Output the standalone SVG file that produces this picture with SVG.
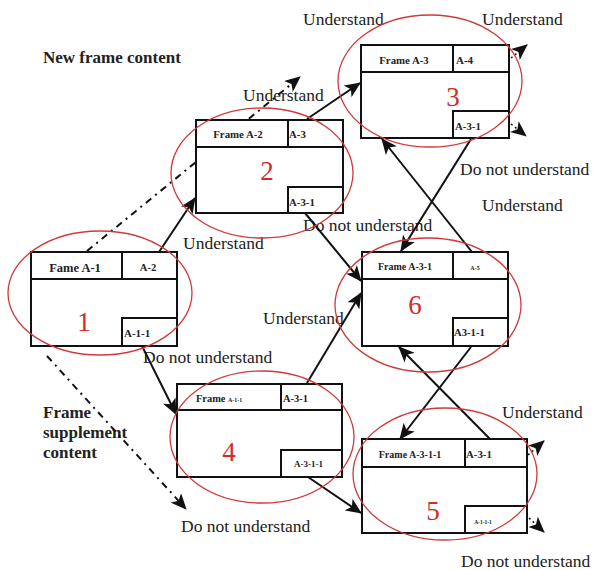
<svg xmlns="http://www.w3.org/2000/svg" width="593" height="570" viewBox="0 0 593 570">
<style>
.box{fill:#fff;stroke:#111;stroke-width:2}
.ln{fill:none;stroke:#111;stroke-width:2}
.ring{fill:none;stroke:#d03a3a;stroke-width:1.3}
.lbl{font-family:"Liberation Serif","Times New Roman",serif;font-weight:bold;fill:#222}
.num{font-family:"Liberation Serif","Times New Roman",serif;font-size:27px;fill:#d42a2a;text-anchor:middle}
.cap{font-family:"Liberation Serif","Times New Roman",serif;font-size:17.5px;fill:#222}
.head{font-family:"Liberation Serif","Times New Roman",serif;font-size:17px;font-weight:bold;fill:#222}
.arr{fill:none;stroke:#111;stroke-width:2;marker-end:url(#ah)}
.dd{fill:none;stroke:#111;stroke-width:2;stroke-dasharray:7,5,2,5;marker-end:url(#ah)}
.dt{fill:none;stroke:#111;stroke-width:1.5;stroke-dasharray:2,3;marker-end:url(#ah)}
</style>
<defs>
<marker id="ah" markerUnits="userSpaceOnUse" markerWidth="16" markerHeight="14" viewBox="0 0 16 14" refX="15" refY="7" orient="auto">
<path d="M0,0 L16,7 L0,14 L4,7 Z" fill="#111"/>
</marker>
</defs>
<rect width="593" height="570" fill="#fff"/>
<g id="labels">
<text class="head" x="43" y="63">New frame content</text>
<text class="head" x="43" y="418">Frame</text>
<text class="head" x="43" y="438">supplement</text>
<text class="head" x="43" y="458">content</text>
<text class="cap" x="303" y="25">Understand</text>
<text class="cap" x="482" y="25">Understand</text>
<text class="cap" x="243" y="101">Understand</text>
<text class="cap" x="183" y="249">Understand</text>
<text class="cap" x="460" y="175">Do not understand</text>
<text class="cap" x="482" y="211">Understand</text>
<text class="cap" x="303" y="231">Do not understand</text>
<text class="cap" x="263" y="324">Understand</text>
<text class="cap" x="143" y="363">Do not understand</text>
<text class="cap" x="502" y="418">Understand</text>
<text class="cap" x="181" y="532">Do not understand</text>
<text class="cap" x="461" y="567">Do not understand</text>
</g>
<g id="connectors">
<path class="dd" d="M87,251 L300,77"/>
<path class="dd" d="M47,356 L186,509"/>
<path class="arr" d="M159,252 L195,198"/>
<path class="arr" d="M307,119 L360,83"/>
<path class="dt" d="M511,58 L527,45"/>
<path class="dt" d="M511,124 L526,136"/>
<path class="arr" d="M471,139 L401,251"/>
<path class="arr" d="M472,252 L382,139"/>
<path class="arr" d="M305,213 L361,281"/>
<path class="arr" d="M307,383 L361,293"/>
<path class="arr" d="M142,346 L176,414"/>
<path class="arr" d="M308,477 L361,513"/>
<path class="arr" d="M471,347 L400,439"/>
<path class="arr" d="M490,439 L399,347"/>
<path class="dt" d="M528,455 L544,441"/>
<path class="dt" d="M529,518 L544,532"/>
</g>
<g id="node1">
<rect class="box" x="31" y="252" width="146" height="94"/>
<path class="ln" d="M31,279 H177 M122,252 V279 M122,346 V318 H177"/>
<text class="lbl" x="75" y="272" font-size="12.5" text-anchor="middle">Fame A-1</text>
<text class="lbl" x="148" y="271" font-size="10.5" text-anchor="middle">A-2</text>
<text class="lbl" x="124" y="337" font-size="11">A-1-1</text>
<text class="num" x="84" y="331">1</text>
<ellipse class="ring" cx="100" cy="293" rx="92" ry="62"/>
</g>
<g id="node2">
<rect class="box" x="196" y="120" width="147" height="93"/>
<path class="ln" d="M196,147 H343 M288,120 V147 M288,213 V187 H343"/>
<text class="lbl" x="238" y="138" font-size="10.8" text-anchor="middle">Frame A-2</text>
<text class="lbl" x="289" y="138" font-size="10.8">A-3</text>
<text class="lbl" x="289" y="206" font-size="10.8">A-3-1</text>
<text class="num" x="267" y="180">2</text>
<ellipse class="ring" cx="262" cy="173" rx="91" ry="65"/>
</g>
<g id="node3">
<rect class="box" x="361" y="45" width="148" height="93"/>
<path class="ln" d="M361,72 H509 M453,45 V72 M453,138 V111 H509"/>
<text class="lbl" x="404" y="64" font-size="10.8" text-anchor="middle">Frame A-3</text>
<text class="lbl" x="456" y="64" font-size="11">A-4</text>
<text class="lbl" x="455" y="130" font-size="10.8">A-3-1</text>
<text class="num" x="453" y="106">3</text>
<ellipse class="ring" cx="430" cy="81" rx="92" ry="66"/>
</g>
<g id="node6">
<rect class="box" x="362" y="252" width="146" height="94"/>
<path class="ln" d="M362,279 H508 M453,252 V279 M453,346 V318 H508"/>
<text class="lbl" x="405" y="270" font-size="10" text-anchor="middle">Frame A-3-1</text>
<text class="lbl" x="475" y="270" font-size="6" text-anchor="middle">A-5</text>
<text class="lbl" x="454" y="336" font-size="10.7">A3-1-1</text>
<text class="num" x="415" y="314">6</text>
<ellipse class="ring" cx="428" cy="305" rx="93" ry="67"/>
</g>
<g id="node4">
<rect class="box" x="177" y="384" width="165" height="93"/>
<path class="ln" d="M177,410 H342 M281,384 V410 M281,477 V450 H342"/>
<text class="lbl" x="196" y="402" font-size="10.4">Frame <tspan font-size="6">A-1-1</tspan></text>
<text class="lbl" x="283" y="402" font-size="10.5">A-3-1</text>
<text class="lbl" x="294" y="467" font-size="9">A-3-1-1</text>
<text class="num" x="229" y="461">4</text>
<ellipse class="ring" cx="262" cy="437" rx="92" ry="66"/>
</g>
<g id="node5">
<rect class="box" x="362" y="439" width="165" height="94"/>
<path class="ln" d="M362,467 H527 M465,439 V467 M465,533 V506 H527"/>
<text class="lbl" x="410" y="458" font-size="10" text-anchor="middle">Frame A-3-1-1</text>
<text class="lbl" x="466" y="458" font-size="10.8">A-3-1</text>
<text class="lbl" x="483" y="524" font-size="5.5" text-anchor="middle">A-1-1-1</text>
<text class="num" x="433" y="520">5</text>
<ellipse class="ring" cx="445" cy="474" rx="92" ry="66"/>
</g>
</svg>
